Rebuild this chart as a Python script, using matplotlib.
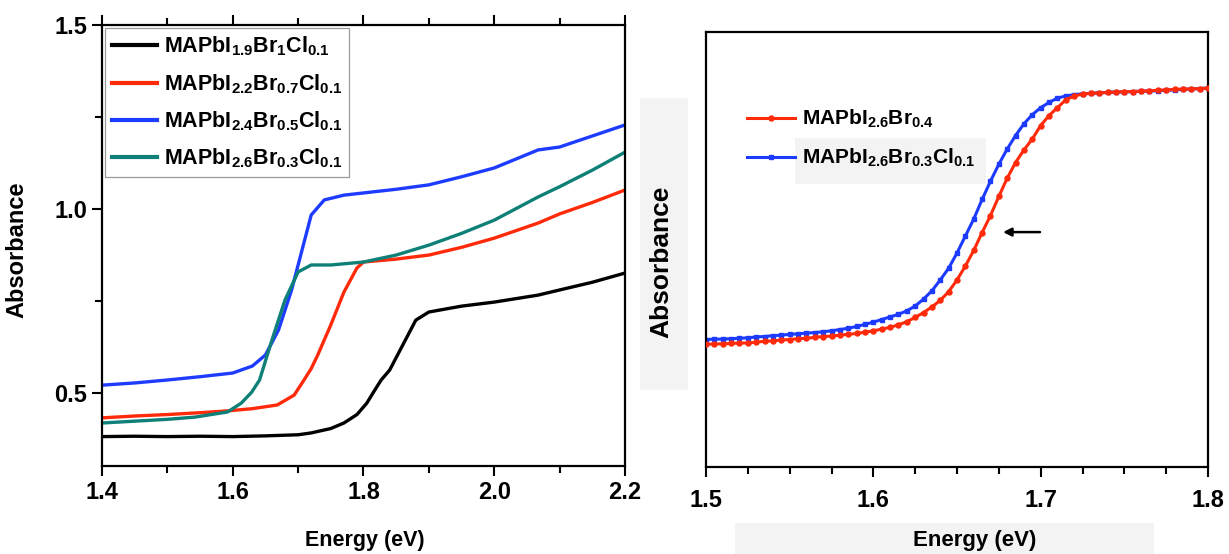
import matplotlib
matplotlib.use("Agg")
import matplotlib.pyplot as plt
from matplotlib.patches import Rectangle
from matplotlib.ticker import MultipleLocator, NullLocator

plt.rcParams['font.family'] = ['Liberation Sans', 'DejaVu Sans']
plt.rcParams['font.weight'] = 'bold'
plt.rcParams['mathtext.fontset'] = 'custom'
plt.rcParams['mathtext.rm'] = 'Liberation Sans:bold'
plt.rcParams['mathtext.it'] = 'Liberation Sans:bold'
plt.rcParams['mathtext.bf'] = 'Liberation Sans:bold'
plt.rcParams['mathtext.default'] = 'rm'

# ---------------- Left panel data ----------------
left_labels = [r'MAPbI$_{1.9}$Br$_{1}$Cl$_{0.1}$',
               r'MAPbI$_{2.2}$Br$_{0.7}$Cl$_{0.1}$',
               r'MAPbI$_{2.4}$Br$_{0.5}$Cl$_{0.1}$',
               r'MAPbI$_{2.6}$Br$_{0.3}$Cl$_{0.1}$']
left_colors = ['#000000', '#FF2A0A', '#1E3CFF', '#0E8078']

black_x = [1.40, 1.45, 1.50, 1.55, 1.60, 1.65, 1.70, 1.72, 1.75, 1.77, 1.79, 1.805,
           1.815, 1.827, 1.84, 1.86, 1.88, 1.90, 1.95, 2.00, 2.067, 2.10, 2.15, 2.20]
black_y = [0.380, 0.381, 0.380, 0.381, 0.380, 0.382, 0.385, 0.390, 0.402, 0.417, 0.440, 0.471,
           0.500, 0.534, 0.561, 0.629, 0.697, 0.719, 0.735, 0.746, 0.765, 0.779, 0.800, 0.825]

red_x = [1.40, 1.45, 1.50, 1.55, 1.592, 1.63, 1.668, 1.694, 1.709, 1.72, 1.73, 1.75,
         1.77, 1.79, 1.80, 1.85, 1.90, 1.95, 2.00, 2.067, 2.10, 2.15, 2.20]
red_y = [0.431, 0.436, 0.440, 0.445, 0.450, 0.456, 0.466, 0.493, 0.534, 0.565, 0.602, 0.684,
         0.773, 0.839, 0.855, 0.863, 0.874, 0.895, 0.920, 0.961, 0.986, 1.017, 1.051]

blue_x = [1.40, 1.45, 1.50, 1.55, 1.60, 1.63, 1.65, 1.67, 1.69, 1.71, 1.72, 1.74,
          1.77, 1.80, 1.85, 1.90, 1.95, 2.00, 2.067, 2.10, 2.15, 2.20]
blue_y = [0.520, 0.526, 0.534, 0.543, 0.553, 0.572, 0.602, 0.670, 0.779, 0.915, 0.983, 1.024,
          1.037, 1.043, 1.053, 1.065, 1.087, 1.111, 1.160, 1.168, 1.198, 1.228]

teal_x = [1.40, 1.45, 1.50, 1.542, 1.592, 1.613, 1.629, 1.641, 1.66, 1.68, 1.70, 1.72,
          1.75, 1.80, 1.85, 1.90, 1.95, 2.00, 2.067, 2.10, 2.15, 2.20]
teal_y = [0.417, 0.422, 0.427, 0.433, 0.447, 0.471, 0.501, 0.534, 0.643, 0.752, 0.828, 0.847,
          0.847, 0.855, 0.874, 0.901, 0.933, 0.969, 1.032, 1.060, 1.105, 1.154]

left_series = [(black_x, black_y), (red_x, red_y), (blue_x, blue_y), (teal_x, teal_y)]

# ---------------- Right panel data ----------------
right_labels = [r'MAPbI$_{2.6}$Br$_{0.4}$', r'MAPbI$_{2.6}$Br$_{0.3}$Cl$_{0.1}$']
right_colors = ['#FF2A0A', '#1C3BFF']
energy_r = [1.500, 1.505, 1.510, 1.515, 1.520, 1.525, 1.530, 1.535, 1.540, 1.545,
            1.550, 1.555, 1.560, 1.565, 1.570, 1.575, 1.580, 1.585, 1.590, 1.595,
            1.600, 1.605, 1.610, 1.615, 1.620, 1.625, 1.630, 1.635, 1.640, 1.645,
            1.650, 1.655, 1.660, 1.665, 1.670, 1.675, 1.680, 1.685, 1.690, 1.695,
            1.700, 1.705, 1.710, 1.715, 1.720, 1.725, 1.730, 1.735, 1.740, 1.745,
            1.750, 1.755, 1.760, 1.765, 1.770, 1.775, 1.780, 1.785, 1.790, 1.795, 1.800]
abs_br = [0.282, 0.283, 0.283, 0.284, 0.285, 0.285, 0.287, 0.289, 0.290, 0.292,
          0.293, 0.295, 0.296, 0.298, 0.300, 0.301, 0.303, 0.305, 0.307, 0.310,
          0.313, 0.317, 0.321, 0.327, 0.334, 0.344, 0.355, 0.368, 0.383, 0.403,
          0.430, 0.462, 0.498, 0.539, 0.578, 0.622, 0.664, 0.700, 0.729, 0.754,
          0.785, 0.808, 0.826, 0.844, 0.853, 0.857, 0.859, 0.860, 0.861, 0.862,
          0.863, 0.863, 0.864, 0.865, 0.866, 0.867, 0.868, 0.869, 0.869, 0.870, 0.871]
abs_brcl = [0.293, 0.294, 0.294, 0.295, 0.296, 0.297, 0.299, 0.300, 0.302, 0.303,
            0.305, 0.306, 0.308, 0.309, 0.311, 0.313, 0.316, 0.319, 0.323, 0.328,
            0.333, 0.339, 0.345, 0.351, 0.359, 0.370, 0.386, 0.405, 0.430, 0.457,
            0.492, 0.531, 0.570, 0.615, 0.657, 0.696, 0.731, 0.762, 0.789, 0.810,
            0.826, 0.838, 0.848, 0.853, 0.856, 0.858, 0.859, 0.860, 0.861, 0.862,
            0.862, 0.863, 0.864, 0.864, 0.865, 0.866, 0.867, 0.868, 0.869, 0.870, 0.871]
arrow_tail = (1.6996, 0.540)
arrow_head = (1.6775, 0.540)

W, H = 1229, 554
fig = plt.figure(figsize=(W / 100, H / 100), dpi=100, facecolor='white')

def fx(px):
    return px / W

def fy(py):
    return 1 - py / H

# light grey background boxes (from the composed source image)
for (x0, y0, x1, y1) in [(640, 98, 688, 390), (735, 523, 1154, 554)]:
    fig.add_artist(Rectangle((fx(x0), fy(y1)), fx(x1) - fx(x0), fy(y0) - fy(y1),
                             transform=fig.transFigure, facecolor='#f3f3f3',
                             edgecolor='none', zorder=-1))

# ---------------- Left axes ----------------
axL = fig.add_axes([fx(102), fy(466), fx(625) - fx(102), fy(25) - fy(466)])
for (xs, ys), c, lab in zip(left_series, left_colors, left_labels):
    axL.plot(xs, ys, color=c, lw=2.4, label=lab)
axL.set_xlim(1.4, 2.2)
axL.set_ylim(0.3, 1.5)
axL.xaxis.set_major_locator(MultipleLocator(0.2))
axL.xaxis.set_minor_locator(MultipleLocator(0.1))
axL.yaxis.set_major_locator(MultipleLocator(0.5))
axL.yaxis.set_minor_locator(MultipleLocator(0.25))
axL.set_xticks([1.4, 1.6, 1.8, 2.0, 2.2])
axL.set_xticklabels(['1.4', '1.6', '1.8', '2.0', '2.2'])
axL.set_yticks([0.5, 1.0, 1.5])
axL.set_yticklabels(['0.5', '1.0', '1.5'])
axL.tick_params(axis='both', which='major', direction='out', length=7, width=1.5,
                labelsize=17)
axL.tick_params(axis='both', which='minor', direction='out', length=5, width=1.5)
axL.tick_params(axis='x', which='both', top=True)
axL.tick_params(axis='x', which='major', pad=4)
for s in axL.spines.values():
    s.set_linewidth(1.6)
axL.set_xlabel('Energy (eV)', fontsize=15.5, fontweight='bold')
axL.set_ylabel('Absorbance', fontsize=17, fontweight='bold')
axL.xaxis.set_label_coords(0.503, -0.145)
axL.yaxis.set_label_coords(-0.141, 0.49)
legL = axL.legend(loc='upper left', bbox_to_anchor=(0.0, 1.0), fontsize=15.5,
                  frameon=True, fancybox=False, edgecolor='#999999', framealpha=1,
                  handlelength=2.1, handletextpad=0.35, labelspacing=0.64,
                  borderpad=0.3, borderaxespad=0.15)
legL.get_frame().set_linewidth(0.9)
for h in legL.get_lines():
    h.set_linewidth(3)

# ---------------- Right axes ----------------
axR = fig.add_axes([fx(706), fy(467), fx(1208) - fx(706), fy(32) - fy(467)])
axR.add_patch(Rectangle((0.177, 0.65), 0.38, 0.106, transform=axR.transAxes,
                        facecolor='#f3f3f3', edgecolor='none', zorder=0.5))
axR.plot(energy_r, abs_br, color=right_colors[0], lw=2.2, marker='o', ms=3.6,
         label=right_labels[0], zorder=3)
axR.plot(energy_r, abs_brcl, color=right_colors[1], lw=2.2, marker='s', ms=3.2,
         label=right_labels[1], zorder=2)
axR.annotate('', xy=arrow_head, xytext=arrow_tail,
             arrowprops=dict(arrowstyle='-|>', color='black', lw=1.8,
                             mutation_scale=12, shrinkA=0, shrinkB=0))
axR.set_xlim(1.5, 1.8)
axR.set_ylim(0, 1)
axR.xaxis.set_major_locator(MultipleLocator(0.1))
axR.xaxis.set_minor_locator(MultipleLocator(0.025))
axR.set_xticks([1.5, 1.6, 1.7, 1.8])
axR.set_xticklabels(['1.5', '1.6', '1.7', '1.8'])
axR.yaxis.set_major_locator(NullLocator())
axR.yaxis.set_minor_locator(NullLocator())
axR.tick_params(axis='x', which='major', direction='out', length=7, width=1.5,
                labelsize=17, pad=9)
axR.tick_params(axis='x', which='minor', direction='out', length=5, width=1.5)
for s in axR.spines.values():
    s.set_linewidth(1.6)
axR.set_xlabel('Energy (eV)', fontsize=16, fontweight='bold')
axR.set_ylabel('Absorbance', fontsize=19, fontweight='bold')
axR.xaxis.set_label_coords(0.536, -0.145)
axR.yaxis.set_label_coords(-0.066, 0.471)
legR = axR.legend(loc='upper left', bbox_to_anchor=(0.045, 0.868), fontsize=15,
                  frameon=False, handlelength=2.3, handletextpad=0.3, labelspacing=0.8)

fig.savefig('out.png', dpi=100, facecolor='white')
